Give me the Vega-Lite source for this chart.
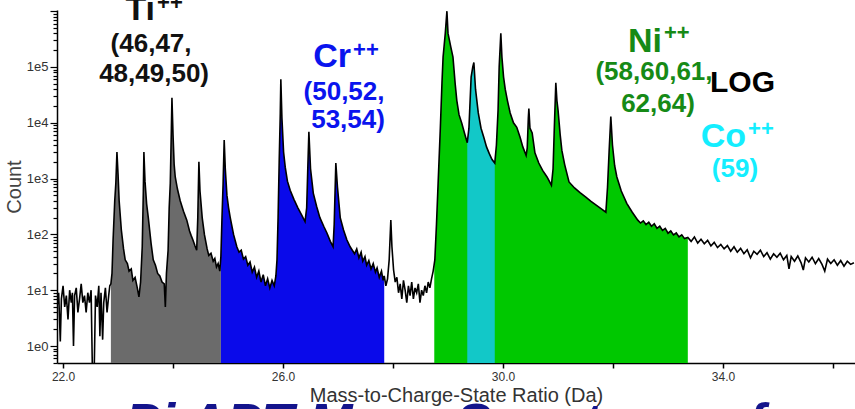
{
  "$schema": "https://vega.github.io/schema/vega-lite/v6.json",
  "width": 798,
  "height": 353,
  "autosize": {"type": "none"},
  "padding": {"left": 57, "top": 10, "right": 0, "bottom": 46},
  "background": "white",
  "config": {"view": {"stroke": null}, "font": "Liberation Sans"},
  "datasets": {
    "spectrum": [
      {"mz": 21.89, "count": 5}, {"mz": 21.92, "count": 9}, {"mz": 21.95, "count": 1.2}, {"mz": 21.97, "count": 7},
      {"mz": 22.0, "count": 12}, {"mz": 22.03, "count": 5}, {"mz": 22.06, "count": 8}, {"mz": 22.09, "count": 3},
      {"mz": 22.12, "count": 10}, {"mz": 22.15, "count": 6}, {"mz": 22.17, "count": 9}, {"mz": 22.19, "count": 1},
      {"mz": 22.21, "count": 8}, {"mz": 22.24, "count": 11}, {"mz": 22.27, "count": 4}, {"mz": 22.3, "count": 7},
      {"mz": 22.33, "count": 13}, {"mz": 22.36, "count": 6}, {"mz": 22.39, "count": 8}, {"mz": 22.42, "count": 4},
      {"mz": 22.45, "count": 9}, {"mz": 22.48, "count": 6}, {"mz": 22.51, "count": 10}, {"mz": 22.535, "count": 0.3},
      {"mz": 22.565, "count": 0.3}, {"mz": 22.59, "count": 8}, {"mz": 22.62, "count": 5}, {"mz": 22.65, "count": 12},
      {"mz": 22.67, "count": 1.5}, {"mz": 22.69, "count": 9}, {"mz": 22.72, "count": 1.3}, {"mz": 22.74, "count": 6},
      {"mz": 22.77, "count": 11}, {"mz": 22.8, "count": 4}, {"mz": 22.83, "count": 8}, {"mz": 22.85, "count": 12},
      {"mz": 22.87, "count": 13},
      {"mz": 22.89, "count": 20}, {"mz": 22.91, "count": 80}, {"mz": 22.94, "count": 400}, {"mz": 22.96, "count": 830},
      {"mz": 22.98, "count": 3000}, {"mz": 23.0, "count": 1200}, {"mz": 23.02, "count": 400}, {"mz": 23.06, "count": 120},
      {"mz": 23.1, "count": 55}, {"mz": 23.13, "count": 35}, {"mz": 23.17, "count": 30}, {"mz": 23.2, "count": 22},
      {"mz": 23.24, "count": 24}, {"mz": 23.27, "count": 15}, {"mz": 23.31, "count": 17}, {"mz": 23.35, "count": 11},
      {"mz": 23.38, "count": 7.6}, {"mz": 23.41, "count": 14}, {"mz": 23.44, "count": 60}, {"mz": 23.46, "count": 600},
      {"mz": 23.47, "count": 3000}, {"mz": 23.49, "count": 900}, {"mz": 23.52, "count": 350}, {"mz": 23.55, "count": 200},
      {"mz": 23.6, "count": 70}, {"mz": 23.64, "count": 35}, {"mz": 23.68, "count": 28}, {"mz": 23.72, "count": 20},
      {"mz": 23.76, "count": 18}, {"mz": 23.8, "count": 14}, {"mz": 23.84, "count": 13}, {"mz": 23.86, "count": 5},
      {"mz": 23.88, "count": 20}, {"mz": 23.91, "count": 52}, {"mz": 23.93, "count": 300}, {"mz": 23.95, "count": 830},
      {"mz": 23.97, "count": 8000}, {"mz": 23.98, "count": 28000}, {"mz": 24.0, "count": 6000}, {"mz": 24.02, "count": 1800},
      {"mz": 24.04, "count": 1070}, {"mz": 24.08, "count": 650}, {"mz": 24.13, "count": 400}, {"mz": 24.19, "count": 260},
      {"mz": 24.25, "count": 180}, {"mz": 24.3, "count": 115}, {"mz": 24.33, "count": 95}, {"mz": 24.36, "count": 80},
      {"mz": 24.4, "count": 62}, {"mz": 24.43, "count": 52}, {"mz": 24.45, "count": 200}, {"mz": 24.47, "count": 2000},
      {"mz": 24.49, "count": 600}, {"mz": 24.53, "count": 200}, {"mz": 24.57, "count": 100}, {"mz": 24.62, "count": 55},
      {"mz": 24.65, "count": 42}, {"mz": 24.69, "count": 46}, {"mz": 24.73, "count": 33}, {"mz": 24.76, "count": 37},
      {"mz": 24.79, "count": 26}, {"mz": 24.82, "count": 30}, {"mz": 24.85, "count": 22}, {"mz": 24.87, "count": 40},
      {"mz": 24.89, "count": 200}, {"mz": 24.91, "count": 800}, {"mz": 24.93, "count": 4900}, {"mz": 24.95, "count": 1500},
      {"mz": 24.98, "count": 500}, {"mz": 25.01, "count": 300}, {"mz": 25.04, "count": 200}, {"mz": 25.1, "count": 100},
      {"mz": 25.16, "count": 60}, {"mz": 25.2, "count": 48}, {"mz": 25.24, "count": 52}, {"mz": 25.28, "count": 36},
      {"mz": 25.32, "count": 40}, {"mz": 25.36, "count": 28}, {"mz": 25.4, "count": 32}, {"mz": 25.44, "count": 21},
      {"mz": 25.48, "count": 26}, {"mz": 25.52, "count": 17}, {"mz": 25.56, "count": 22}, {"mz": 25.6, "count": 14},
      {"mz": 25.64, "count": 19}, {"mz": 25.68, "count": 12}, {"mz": 25.72, "count": 16}, {"mz": 25.76, "count": 11},
      {"mz": 25.8, "count": 15}, {"mz": 25.84, "count": 12}, {"mz": 25.87, "count": 18}, {"mz": 25.89, "count": 35},
      {"mz": 25.91, "count": 200}, {"mz": 25.93, "count": 2000}, {"mz": 25.95, "count": 15000}, {"mz": 25.96, "count": 60000},
      {"mz": 25.98, "count": 12000}, {"mz": 26.01, "count": 3000}, {"mz": 26.04, "count": 1600}, {"mz": 26.08, "count": 900},
      {"mz": 26.13, "count": 620}, {"mz": 26.2, "count": 420}, {"mz": 26.27, "count": 300}, {"mz": 26.33, "count": 230},
      {"mz": 26.4, "count": 170}, {"mz": 26.43, "count": 300}, {"mz": 26.45, "count": 1500}, {"mz": 26.47, "count": 6900},
      {"mz": 26.5, "count": 1500}, {"mz": 26.55, "count": 550}, {"mz": 26.61, "count": 320}, {"mz": 26.67, "count": 200},
      {"mz": 26.74, "count": 140}, {"mz": 26.8, "count": 105}, {"mz": 26.86, "count": 75}, {"mz": 26.91, "count": 60},
      {"mz": 26.93, "count": 150}, {"mz": 26.96, "count": 1900}, {"mz": 26.99, "count": 700}, {"mz": 27.04, "count": 200},
      {"mz": 27.1, "count": 120}, {"mz": 27.16, "count": 80}, {"mz": 27.22, "count": 60}, {"mz": 27.26, "count": 52},
      {"mz": 27.3, "count": 45}, {"mz": 27.34, "count": 55}, {"mz": 27.38, "count": 38}, {"mz": 27.42, "count": 48},
      {"mz": 27.45, "count": 33}, {"mz": 27.49, "count": 40}, {"mz": 27.52, "count": 28}, {"mz": 27.56, "count": 34},
      {"mz": 27.6, "count": 24}, {"mz": 27.64, "count": 30}, {"mz": 27.68, "count": 21}, {"mz": 27.71, "count": 25},
      {"mz": 27.75, "count": 17}, {"mz": 27.79, "count": 22}, {"mz": 27.82, "count": 15}, {"mz": 27.84, "count": 18},
      {"mz": 27.87, "count": 12}, {"mz": 27.9, "count": 16}, {"mz": 27.93, "count": 35}, {"mz": 27.96, "count": 180},
      {"mz": 27.98, "count": 60}, {"mz": 28.01, "count": 23}, {"mz": 28.04, "count": 14}, {"mz": 28.07, "count": 17},
      {"mz": 28.1, "count": 9}, {"mz": 28.13, "count": 13}, {"mz": 28.16, "count": 7}, {"mz": 28.19, "count": 15},
      {"mz": 28.22, "count": 10}, {"mz": 28.25, "count": 6}, {"mz": 28.28, "count": 12}, {"mz": 28.31, "count": 8},
      {"mz": 28.34, "count": 14}, {"mz": 28.37, "count": 7}, {"mz": 28.4, "count": 11}, {"mz": 28.43, "count": 9},
      {"mz": 28.46, "count": 13}, {"mz": 28.49, "count": 6}, {"mz": 28.52, "count": 10}, {"mz": 28.55, "count": 8},
      {"mz": 28.58, "count": 12}, {"mz": 28.61, "count": 9}, {"mz": 28.64, "count": 14}, {"mz": 28.67, "count": 11},
      {"mz": 28.7, "count": 16}, {"mz": 28.73, "count": 22}, {"mz": 28.75, "count": 30},
      {"mz": 28.76, "count": 35}, {"mz": 28.79, "count": 150}, {"mz": 28.82, "count": 830}, {"mz": 28.86, "count": 8000},
      {"mz": 28.89, "count": 52000}, {"mz": 28.91, "count": 150000}, {"mz": 28.95, "count": 400000}, {"mz": 28.98, "count": 1000000},
      {"mz": 29.0, "count": 400000}, {"mz": 29.05, "count": 230000}, {"mz": 29.09, "count": 150000}, {"mz": 29.13, "count": 50000},
      {"mz": 29.16, "count": 25000}, {"mz": 29.2, "count": 14000}, {"mz": 29.25, "count": 9800}, {"mz": 29.3, "count": 6500},
      {"mz": 29.35, "count": 4400}, {"mz": 29.38, "count": 8000}, {"mz": 29.42, "count": 66000}, {"mz": 29.45, "count": 100000},
      {"mz": 29.47, "count": 120000}, {"mz": 29.5, "count": 40000}, {"mz": 29.55, "count": 15000}, {"mz": 29.6, "count": 8000},
      {"mz": 29.65, "count": 5500}, {"mz": 29.7, "count": 3700}, {"mz": 29.75, "count": 2800}, {"mz": 29.8, "count": 2200},
      {"mz": 29.85, "count": 1900}, {"mz": 29.88, "count": 4000}, {"mz": 29.91, "count": 17000}, {"mz": 29.93, "count": 100000},
      {"mz": 29.96, "count": 400000}, {"mz": 29.98, "count": 150000}, {"mz": 30.01, "count": 66000}, {"mz": 30.04, "count": 40000},
      {"mz": 30.08, "count": 25000}, {"mz": 30.13, "count": 15000}, {"mz": 30.19, "count": 10000}, {"mz": 30.25, "count": 8300},
      {"mz": 30.31, "count": 5500}, {"mz": 30.36, "count": 3700}, {"mz": 30.42, "count": 2600}, {"mz": 30.44, "count": 3500},
      {"mz": 30.46, "count": 12000}, {"mz": 30.47, "count": 18000}, {"mz": 30.49, "count": 8000}, {"mz": 30.53, "count": 6600},
      {"mz": 30.58, "count": 2900}, {"mz": 30.65, "count": 1900}, {"mz": 30.72, "count": 1400}, {"mz": 30.8, "count": 1070},
      {"mz": 30.88, "count": 760}, {"mz": 30.91, "count": 1500}, {"mz": 30.93, "count": 6600}, {"mz": 30.96, "count": 52000},
      {"mz": 30.98, "count": 25000}, {"mz": 31.0, "count": 17000}, {"mz": 31.04, "count": 6000}, {"mz": 31.07, "count": 3200},
      {"mz": 31.12, "count": 1800}, {"mz": 31.2, "count": 870}, {"mz": 31.3, "count": 680}, {"mz": 31.4, "count": 560},
      {"mz": 31.5, "count": 470}, {"mz": 31.6, "count": 390}, {"mz": 31.7, "count": 330}, {"mz": 31.8, "count": 280},
      {"mz": 31.87, "count": 250}, {"mz": 31.9, "count": 700}, {"mz": 31.93, "count": 3200}, {"mz": 31.96, "count": 13000},
      {"mz": 31.99, "count": 4000}, {"mz": 32.03, "count": 1700}, {"mz": 32.07, "count": 1070}, {"mz": 32.15, "count": 600},
      {"mz": 32.25, "count": 360}, {"mz": 32.35, "count": 250}, {"mz": 32.45, "count": 180}, {"mz": 32.5, "count": 160},
      {"mz": 32.55, "count": 175}, {"mz": 32.6, "count": 150}, {"mz": 32.65, "count": 165}, {"mz": 32.7, "count": 140},
      {"mz": 32.75, "count": 155}, {"mz": 32.8, "count": 128}, {"mz": 32.85, "count": 140}, {"mz": 32.9, "count": 118},
      {"mz": 32.95, "count": 128}, {"mz": 33.0, "count": 105}, {"mz": 33.05, "count": 115}, {"mz": 33.1, "count": 98},
      {"mz": 33.15, "count": 106}, {"mz": 33.2, "count": 90}, {"mz": 33.25, "count": 98}, {"mz": 33.3, "count": 84},
      {"mz": 33.36, "count": 88}, {"mz": 33.42, "count": 75}, {"mz": 33.48, "count": 90}, {"mz": 33.54, "count": 70},
      {"mz": 33.6, "count": 82}, {"mz": 33.66, "count": 68}, {"mz": 33.72, "count": 78}, {"mz": 33.78, "count": 62},
      {"mz": 33.84, "count": 72}, {"mz": 33.9, "count": 58}, {"mz": 33.96, "count": 66}, {"mz": 34.02, "count": 55},
      {"mz": 34.08, "count": 63}, {"mz": 34.14, "count": 50}, {"mz": 34.2, "count": 60}, {"mz": 34.26, "count": 48},
      {"mz": 34.32, "count": 56}, {"mz": 34.38, "count": 45}, {"mz": 34.44, "count": 53}, {"mz": 34.5, "count": 38},
      {"mz": 34.56, "count": 50}, {"mz": 34.62, "count": 44}, {"mz": 34.68, "count": 52}, {"mz": 34.74, "count": 40},
      {"mz": 34.8, "count": 47}, {"mz": 34.86, "count": 36}, {"mz": 34.92, "count": 45}, {"mz": 34.98, "count": 39},
      {"mz": 35.04, "count": 46}, {"mz": 35.1, "count": 35}, {"mz": 35.16, "count": 42}, {"mz": 35.2, "count": 24},
      {"mz": 35.24, "count": 40}, {"mz": 35.3, "count": 33}, {"mz": 35.36, "count": 41}, {"mz": 35.42, "count": 31},
      {"mz": 35.46, "count": 23}, {"mz": 35.5, "count": 38}, {"mz": 35.56, "count": 32}, {"mz": 35.62, "count": 39},
      {"mz": 35.68, "count": 30}, {"mz": 35.74, "count": 37}, {"mz": 35.8, "count": 29}, {"mz": 35.85, "count": 22},
      {"mz": 35.9, "count": 36}, {"mz": 35.96, "count": 30}, {"mz": 36.02, "count": 35}, {"mz": 36.08, "count": 28},
      {"mz": 36.14, "count": 34}, {"mz": 36.2, "count": 27}, {"mz": 36.26, "count": 33}, {"mz": 36.32, "count": 29},
      {"mz": 36.38, "count": 31}
    ],
    "labels": [
      {"label": "Ti", "el": "Ti", "kind": "sym", "mz": 23.673, "count": 695000},
      {"label": "++", "el": "Ti", "kind": "sup", "mz": 23.709, "count": 1050000},
      {"label": "(46,47,", "el": "Ti", "kind": "iso", "mz": 23.6, "count": 186000},
      {"label": "48,49,50)", "el": "Ti", "kind": "iso", "mz": 23.655, "count": 53900},
      {"label": "Cr", "el": "Cr", "kind": "sym", "mz": 27.236, "count": 100000},
      {"label": "++", "el": "Cr", "kind": "sup", "mz": 27.273, "count": 151000},
      {"label": "(50,52,", "el": "Cr", "kind": "iso", "mz": 27.109, "count": 25600},
      {"label": "53,54)", "el": "Cr", "kind": "iso", "mz": 27.182, "count": 8070},
      {"label": "Ni", "el": "Ni", "kind": "sym", "mz": 32.891, "count": 186000},
      {"label": "++", "el": "Ni", "kind": "sup", "mz": 32.927, "count": 305000},
      {"label": "(58,60,61,", "el": "Ni", "kind": "iso", "mz": 32.745, "count": 58500},
      {"label": "62,64)", "el": "Ni", "kind": "iso", "mz": 32.818, "count": 15600},
      {"label": "LOG", "el": "LOG", "kind": "log", "mz": 33.764, "count": 35600},
      {"label": "Co", "el": "Co", "kind": "sym", "mz": 34.418, "count": 3680},
      {"label": "++", "el": "Co", "kind": "sup", "mz": 34.455, "count": 5800},
      {"label": "(59)", "el": "Co", "kind": "iso", "mz": 34.218, "count": 1070},
      {"label": "Pi APT Mass Spectrum of", "el": "title", "kind": "title", "mz": 23.127, "count": 0.02}
    ]
  },
  "layer": [
    {
      "data": {"name": "spectrum"},
      "transform": [{"filter": {"field": "mz", "range": [22.87, 24.87]}}],
      "mark": {"type": "area", "color": "#6b6b6b", "clip": true},
      "encoding": {
        "x": {"field": "mz", "type": "quantitative", "scale": {"domain": [21.89, 36.4], "nice": false, "zero": false}},
        "y": {"field": "count", "type": "quantitative", "scale": {"type": "log", "domain": [0.496, 1050000], "nice": false}},
        "y2": {"datum": 0.496}
      }
    },
    {
      "data": {"name": "spectrum"},
      "transform": [{"filter": {"field": "mz", "range": [24.87, 27.84]}}],
      "mark": {"type": "area", "color": "#0a0aea", "clip": true},
      "encoding": {
        "x": {"field": "mz", "type": "quantitative"},
        "y": {"field": "count", "type": "quantitative"},
        "y2": {"datum": 0.496}
      }
    },
    {
      "data": {"name": "spectrum"},
      "transform": [{"filter": {"field": "mz", "range": [28.75, 33.36]}}],
      "mark": {"type": "area", "color": "#00c800", "clip": true},
      "encoding": {
        "x": {"field": "mz", "type": "quantitative"},
        "y": {"field": "count", "type": "quantitative"},
        "y2": {"datum": 0.496}
      }
    },
    {
      "data": {"name": "spectrum"},
      "transform": [{"filter": {"field": "mz", "range": [29.35, 29.85]}}],
      "mark": {"type": "area", "color": "#12c8c8", "clip": true},
      "encoding": {
        "x": {"field": "mz", "type": "quantitative"},
        "y": {"field": "count", "type": "quantitative"},
        "y2": {"datum": 0.496}
      }
    },
    {
      "data": {"name": "spectrum"},
      "mark": {"type": "line", "color": "black", "strokeWidth": 1.6, "clip": true},
      "encoding": {
        "x": {
          "field": "mz", "type": "quantitative",
          "axis": {
            "values": [22, 24, 26, 28, 30, 32, 34, 36],
            "labelExpr": "datum.value % 4 === 2 ? format(datum.value, '.1f') : ''",
            "title": "Mass-to-Charge-State Ratio (Da)",
            "titleFont": "Liberation Sans", "titleFontSize": 20, "titleFontWeight": "normal", "titleColor": "#333333",
            "titlePadding": 3,
            "labelFont": "Liberation Sans", "labelFontSize": 12, "labelColor": "#333333", "labelPadding": 3, "labelFlush": false,
            "tickSize": 5, "tickColor": "black", "tickWidth": 1.5,
            "domainColor": "black", "domainWidth": 1.5, "grid": false
          }
        },
        "y": {
          "field": "count", "type": "quantitative",
          "axis": {
            "values": [0.5, 0.6, 0.7, 0.8, 0.9, 1, 2, 3, 4, 5, 6, 7, 8, 9, 10, 20, 30, 40, 50, 60, 70, 80, 90, 100, 200, 300, 400, 500, 600, 700, 800, 900, 1000, 2000, 3000, 4000, 5000, 6000, 7000, 8000, 9000, 10000, 20000, 30000, 40000, 50000, 60000, 70000, 80000, 90000, 100000, 200000, 300000, 400000, 500000, 600000, 700000, 800000, 900000, 1000000],
            "labelExpr": "datum.value < 200000 && abs(log(datum.value)/LN10 - round(log(datum.value)/LN10)) < 0.01 ? '1e' + round(log(datum.value)/LN10) : ''",
            "labelOverlap": false,
            "title": "Count",
            "titleFont": "Liberation Sans", "titleFontSize": 20, "titleFontWeight": "normal", "titleColor": "#444444",
            "titlePadding": 2,
            "labelFont": "Liberation Sans", "labelFontSize": 13, "labelColor": "#333333", "labelPadding": 2,
            "tickSize": {"condition": {"test": "abs(log(datum.value)/LN10 - round(log(datum.value)/LN10)) < 0.01", "value": 7}, "value": 4},
            "tickColor": "black", "tickWidth": 1.2,
            "domainColor": "black", "domainWidth": 1.5, "grid": false
          }
        }
      }
    },
    {
      "data": {"name": "labels"},
      "transform": [{"filter": "datum.kind === 'sym'"}],
      "mark": {"type": "text", "align": "right", "baseline": "alphabetic", "fontSize": 34, "fontWeight": "bold", "font": "Liberation Sans"},
      "encoding": {
        "x": {"field": "mz", "type": "quantitative"},
        "y": {"field": "count", "type": "quantitative"},
        "text": {"field": "label"},
        "color": {"field": "el", "type": "nominal", "legend": null, "scale": {"domain": ["Ti", "Cr", "Ni", "LOG", "Co", "title"], "range": ["#111111", "#0a14ee", "#168a16", "#000000", "#14eeff", "#14148c"]}}
      }
    },
    {
      "data": {"name": "labels"},
      "transform": [{"filter": "datum.kind === 'sup'"}],
      "mark": {"type": "text", "align": "left", "baseline": "alphabetic", "fontSize": 22, "fontWeight": "bold", "font": "Liberation Sans"},
      "encoding": {
        "x": {"field": "mz", "type": "quantitative"},
        "y": {"field": "count", "type": "quantitative"},
        "text": {"field": "label"},
        "color": {"field": "el", "type": "nominal", "legend": null}
      }
    },
    {
      "data": {"name": "labels"},
      "transform": [{"filter": "datum.kind === 'iso'"}],
      "mark": {"type": "text", "align": "center", "baseline": "alphabetic", "fontSize": 26, "fontWeight": "bold", "font": "Liberation Sans"},
      "encoding": {
        "x": {"field": "mz", "type": "quantitative"},
        "y": {"field": "count", "type": "quantitative"},
        "text": {"field": "label"},
        "color": {"field": "el", "type": "nominal", "legend": null}
      }
    },
    {
      "data": {"name": "labels"},
      "transform": [{"filter": "datum.kind === 'log'"}],
      "mark": {"type": "text", "align": "left", "baseline": "alphabetic", "fontSize": 30, "fontWeight": "bold", "font": "Liberation Sans"},
      "encoding": {
        "x": {"field": "mz", "type": "quantitative"},
        "y": {"field": "count", "type": "quantitative"},
        "text": {"field": "label"},
        "color": {"field": "el", "type": "nominal", "legend": null}
      }
    },
    {
      "data": {"name": "labels"},
      "transform": [{"filter": "datum.kind === 'title'"}],
      "mark": {"type": "text", "align": "left", "baseline": "alphabetic", "fontSize": 53, "fontWeight": "bold", "fontStyle": "italic", "font": "Liberation Sans"},
      "encoding": {
        "x": {"field": "mz", "type": "quantitative"},
        "y": {"field": "count", "type": "quantitative"},
        "text": {"field": "label"},
        "color": {"field": "el", "type": "nominal", "legend": null}
      }
    }
  ]
}
